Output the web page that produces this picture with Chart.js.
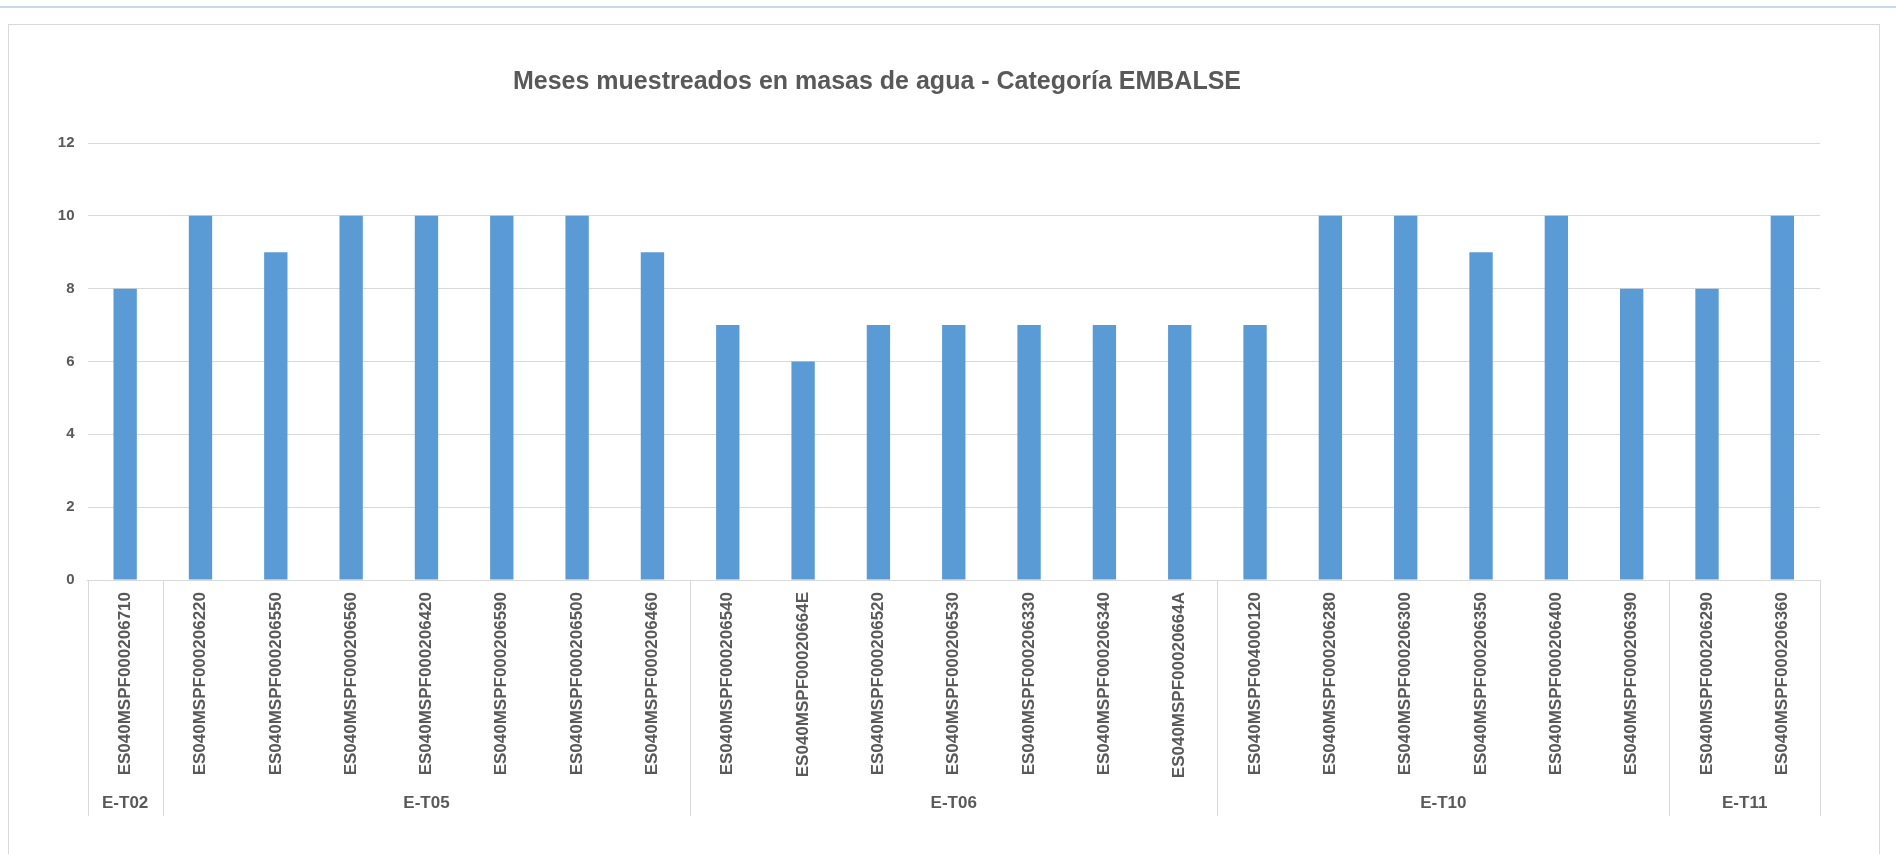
<!DOCTYPE html>
<html lang="es">
<head>
<meta charset="utf-8">
<title>Meses muestreados - EMBALSE</title>
<script src="https://cdn.jsdelivr.net/npm/chart.js@4.4.1/dist/chart.umd.min.js"></script>
<style>
    html, body {
        margin: 0;
        padding: 0;
        background: #ffffff;
        overflow: hidden;
    }
    .top-rule {
        position: absolute;
        left: 0;
        top: 6px;
        width: 100%;
        height: 2px;
        background: #c5d9ef;
    }
    .chart-box {
        position: absolute;
        left: 8px;
        top: 24px;
        width: 1872px;
        height: 860px;
        box-sizing: border-box;
        border: 1px solid #d9d9d9;
    }
    .chart-box canvas {
        display: block;
    }
</style>
</head>
<body>
<div class="top-rule"></div>
<div class="chart-box">
    <canvas id="mesesChart" width="1870" height="858"></canvas>
</div>

<script>
// Water bodies (reservoirs) and months sampled in each
const masasAgua = [
    'ES040MSPF000206710',
    'ES040MSPF000206220',
    'ES040MSPF000206550',
    'ES040MSPF000206560',
    'ES040MSPF000206420',
    'ES040MSPF000206590',
    'ES040MSPF000206500',
    'ES040MSPF000206460',
    'ES040MSPF000206540',
    'ES040MSPF00020664E',
    'ES040MSPF000206520',
    'ES040MSPF000206530',
    'ES040MSPF000206330',
    'ES040MSPF000206340',
    'ES040MSPF00020664A',
    'ES040MSPF004000120',
    'ES040MSPF000206280',
    'ES040MSPF000206300',
    'ES040MSPF000206350',
    'ES040MSPF000206400',
    'ES040MSPF000206390',
    'ES040MSPF000206290',
    'ES040MSPF000206360'
];

const mesesMuestreados = [8, 10, 9, 10, 10, 10, 10, 9, 7, 6, 7, 7, 7, 7, 7, 7, 10, 10, 9, 10, 8, 8, 10];

// Typology groups and how many water bodies each one holds
const grupos = ['E-T02', 'E-T05', 'E-T06', 'E-T10', 'E-T11'];
const gruposTamano = [1, 7, 7, 6, 2];

const yTicks = [0, 2, 4, 6, 8, 10, 12];

const TITULO = 'Meses muestreados en masas de agua - Categoría EMBALSE';

const FONT = '"Liberation Sans", Arial, sans-serif';
const TEXT_COLOR = '#595959';
const GRID_COLOR = '#d9d9d9';
const BAR_COLOR = '#5b9bd5';

// Title drawn by hand so it can sit a bit left of the plot centre
const titlePlugin = {
    id: 'customTitle',
    afterDraw(chart) {
        const ctx = chart.ctx;
        ctx.save();
        ctx.fillStyle = TEXT_COLOR;
        ctx.font = 'bold 25px ' + FONT;
        ctx.textAlign = 'center';
        ctx.textBaseline = 'alphabetic';
        ctx.fillText(TITULO, 868, 64);
        ctx.restore();
    }
};

// Draws the second level of category labels (typology) with its separators
const groupAxisPlugin = {
    id: 'groupAxis',
    afterDraw(chart) {
        const ctx = chart.ctx;
        const x = chart.scales.x;
        const top = x.top;
        const bottom = top + 236;

        ctx.save();
        ctx.strokeStyle = GRID_COLOR;
        ctx.lineWidth = 1;
        ctx.fillStyle = TEXT_COLOR;
        ctx.font = 'bold 17px ' + FONT;
        ctx.textAlign = 'center';
        ctx.textBaseline = 'middle';

        let start = 0;
        const edges = [x.getPixelForValue(-0.5)];
        grupos.forEach((nombre, i) => {
            const end = start + gruposTamano[i];
            const left = x.getPixelForValue(start - 0.5);
            const right = x.getPixelForValue(end - 0.5);
            edges.push(right);
            ctx.fillText(nombre, (left + right) / 2, top + 223);
            start = end;
        });

        edges.forEach(px => {
            const xx = Math.round(px) + 0.5;
            ctx.beginPath();
            ctx.moveTo(xx, top);
            ctx.lineTo(xx, bottom);
            ctx.stroke();
        });
        ctx.restore();
    }
};

const canvas = document.getElementById('mesesChart');

new Chart(canvas, {
    type: 'bar',
    data: {
        labels: masasAgua,
        datasets: [{
            label: 'Meses muestreados',
            data: mesesMuestreados,
            backgroundColor: BAR_COLOR,
            borderWidth: 0,
            barPercentage: 0.31,
            categoryPercentage: 1
        }]
    },
    options: {
        responsive: false,
        animation: false,
        layout: {
            padding: { top: 118, right: 59, bottom: 0, left: 0 }
        },
        plugins: {
            legend: { display: false },
            tooltip: { enabled: false },
            title: { display: false }
        },
        scales: {
            x: {
                grid: { display: false, drawTicks: false },
                border: { display: true, color: GRID_COLOR, width: 1 },
                ticks: {
                    autoSkip: false,
                    minRotation: 90,
                    maxRotation: 90,
                    padding: 12,
                    color: TEXT_COLOR,
                    font: { family: FONT, size: 17, weight: 'bold' }
                },
                afterFit(scale) {
                    scale.height = 303;
                }
            },
            y: {
                min: 0,
                max: 12,
                afterBuildTicks(scale) {
                    scale.ticks = yTicks.map(v => ({ value: v }));
                },
                grid: { color: GRID_COLOR, drawTicks: false },
                border: { display: false },
                ticks: {
                    padding: 13,
                    color: TEXT_COLOR,
                    font: { family: FONT, size: 15, weight: 'bold' }
                },
                afterFit(scale) {
                    scale.width = 78.5;
                }
            }
        }
    },
    plugins: [titlePlugin, groupAxisPlugin]
});
</script>
</body>
</html>
